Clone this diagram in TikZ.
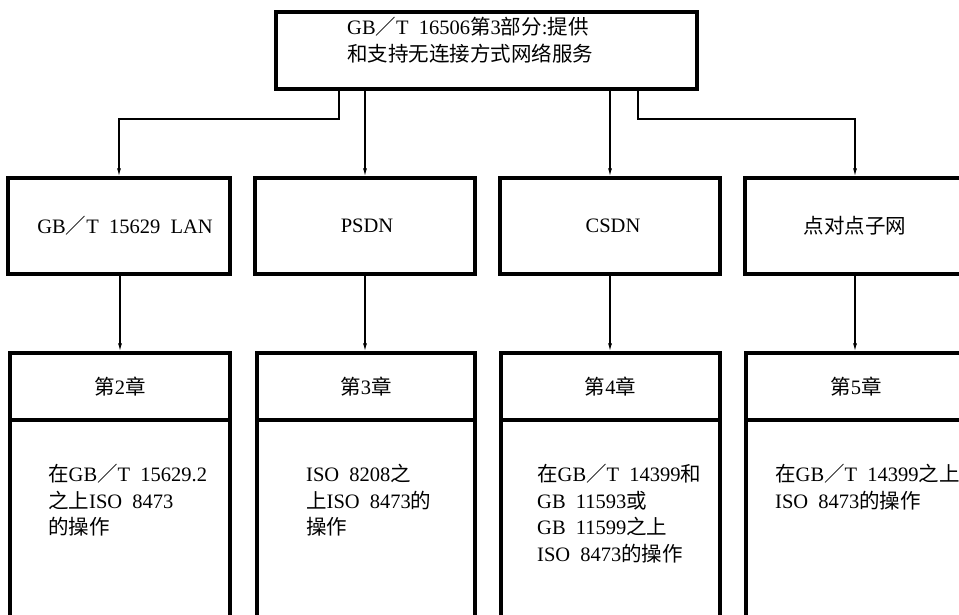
\documentclass[tikz,border=0pt]{standalone}
\usepackage{fontspec}
\setmainfont{Liberation Serif}[WordSpace=2.0]
\newfontfamily\cjkf{Noto Sans CJK SC}
\usetikzlibrary{arrows.meta}
\newcommand{\zh}[1]{{\cjkf #1}}
\begin{document}
\begin{tikzpicture}[x=1pt,y=-1pt,
  box/.style={draw=black,line width=3.2pt,rectangle,inner sep=0pt,minimum width=220pt},
  conn/.style={draw=black,line width=1.3pt,-{Latex[length=8pt,width=4pt]}},
  txt/.style={inner sep=0pt,align=left,font=\fontsize{20.5}{26.7}\selectfont},
  every node/.style={font=\fontsize{20.5}{26.7}\selectfont}]
\useasboundingbox (0,0) rectangle (959,615);
\clip (0,0) rectangle (959,615);
\fill[white] (0,0) rectangle (959,615);
% top box
\node[box,minimum width=421pt,minimum height=77pt] (top) at (486.5,50.5) {};
\node[txt,anchor=west] (toptxt) at (347,40.5) {GB\zh{／}T 16506\zh{第}3\zh{部分}:\zh{提供}\\\zh{和支持无连接方式网络服务}};
% row 2
\node[box,minimum width=222pt,minimum height=96pt] (r2a) at (119,226) {\hspace*{12pt}GB\zh{／}T 15629 LAN};
\node[box,minimum height=96pt] (r2b) at (365,226) {\hspace*{4pt}PSDN};
\node[box,minimum height=96pt] (r2c) at (610,226) {\hspace*{6pt}CSDN};
\node[box,minimum height=96pt] (r2d) at (855,226) {\zh{点对点子网}};
% junctions
\coordinate (j1) at (339,119);
\coordinate (j4) at (638,119);
\coordinate (jb) at (365,119);
\coordinate (jc) at (610,119);
% connectors top -> row 2
\draw[conn] (top.south -| j1) -- (j1) -| (r2a.north);
\draw[conn] (top.south -| jb) -- (r2b.north);
\draw[conn] (top.south -| jc) -- (r2c.north);
\draw[conn] (top.south -| j4) -- (j4) -| (r2d.north);
% row 3 headers
\node[box,minimum height=67pt] (h1) at (120,386.5) {\zh{第}2\zh{章}};
\node[box,minimum width=218pt,minimum height=67pt] (h2) at (366,386.5) {\zh{第}3\zh{章}};
\node[box,minimum width=219pt,minimum height=67pt] (h3) at (610.5,386.5) {\zh{第}4\zh{章}};
\node[box,minimum height=67pt] (h4) at (856,386.5) {\zh{第}5\zh{章}};
% row 3 bodies
\node[box,minimum height=220pt] (b1) at (120,530) {};
\node[box,minimum width=218pt,minimum height=220pt] (b2) at (366,530) {};
\node[box,minimum width=219pt,minimum height=220pt] (b3) at (610.5,530) {};
\node[box,minimum height=220pt] (b4) at (856,530) {};
% connectors row 2 -> row 3
\draw[conn] (r2a.south -| h1.north) -- (h1.north);
\draw[conn] (r2b.south) -- (r2b.south |- h2.north);
\draw[conn] (r2c.south) -- (r2c.south |- h3.north);
\draw[conn] (r2d.south) -- (r2d.south |- h4.north);
% body texts
\node[txt,anchor=north west] (t1) at (48,464) {\zh{在}GB\zh{／}T 15629.2\\\zh{之上}ISO 8473\\\zh{的操作}};
\node[txt,anchor=north west] (t2) at (306,464) {ISO 8208\zh{之}\\\zh{上}ISO 8473\zh{的}\\\zh{操作}};
\node[txt,anchor=north west] (t3) at (537,464) {\zh{在}GB\zh{／}T 14399\zh{和}\\GB 11593\zh{或}\\GB 11599\zh{之上}\\ISO 8473\zh{的操作}};
\node[txt,anchor=north west] (t4) at (775,464) {\zh{在}GB\zh{／}T 14399\zh{之上}\\ISO 8473\zh{的操作}};
\end{tikzpicture}
\end{document}
